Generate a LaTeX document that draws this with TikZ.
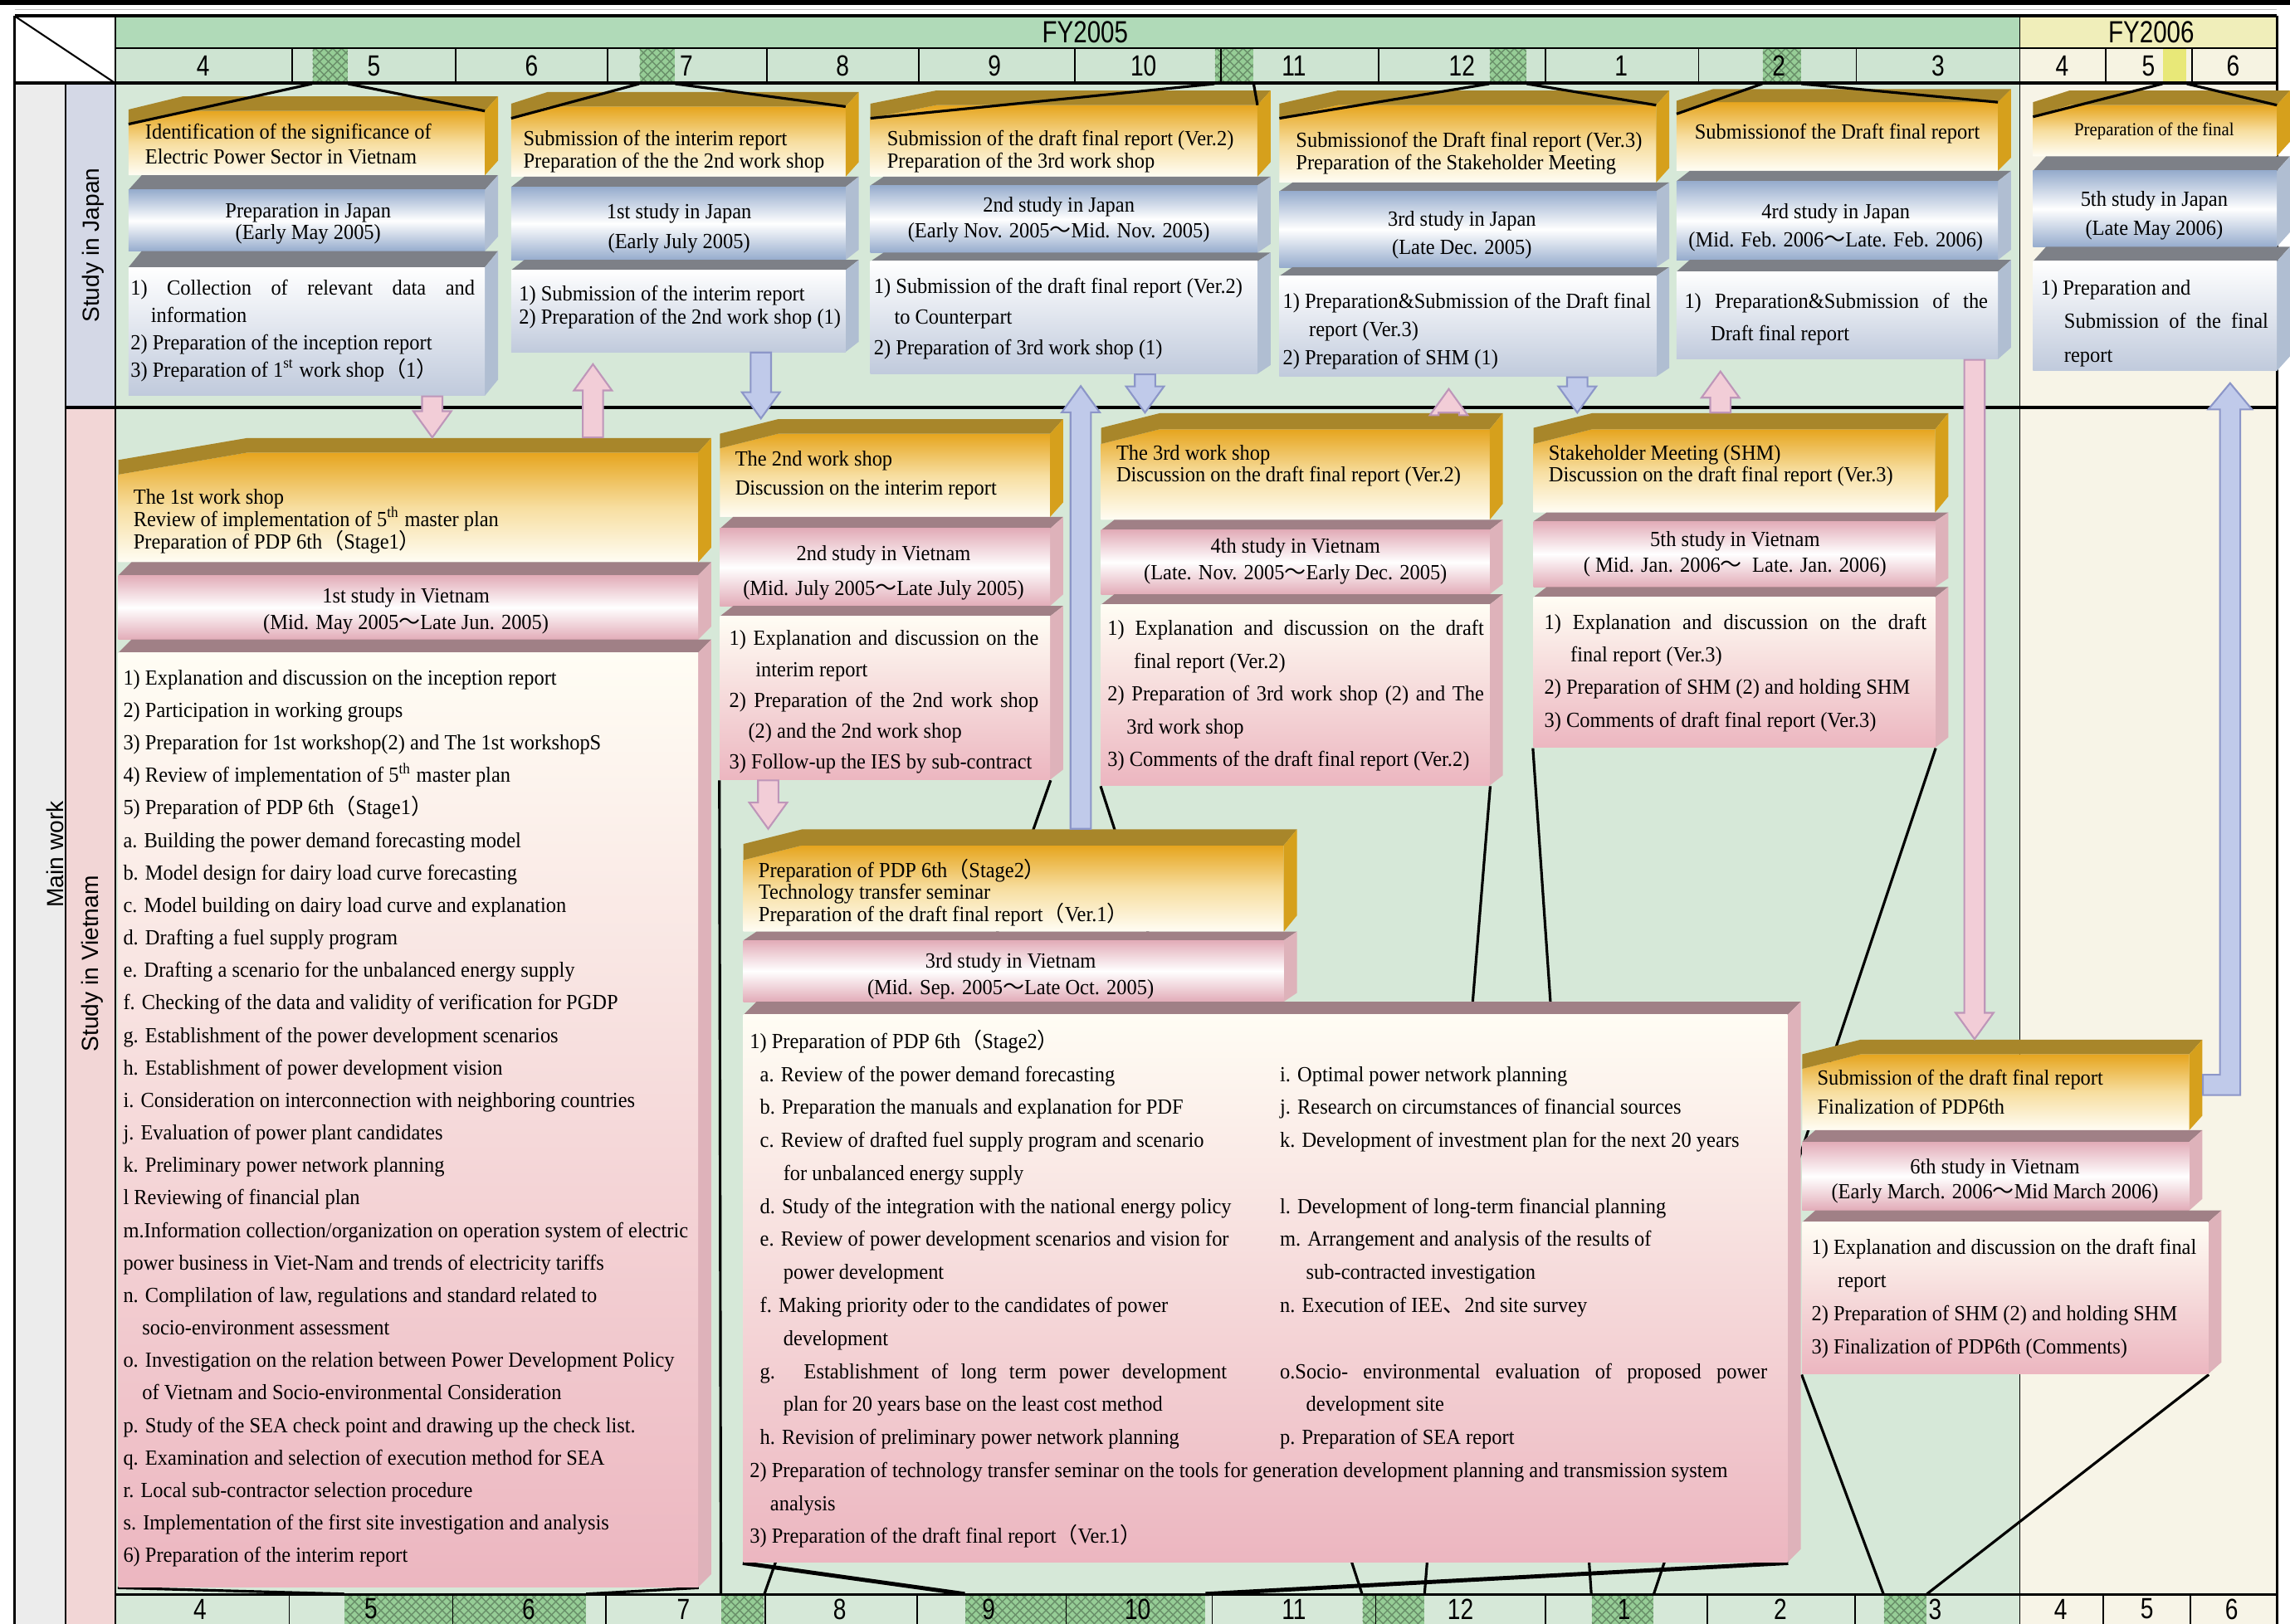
\documentclass[tikz,border=0pt]{standalone}
\usepackage{fontspec}
\setmainfont{Liberation Serif}[FakeStretch=0.94]
\newfontfamily\condsans{Liberation Sans}[FakeStretch=0.8]
\newfontfamily\lblsans{Liberation Sans}
\newfontfamily\cjk{Noto Sans CJK JP}
\usetikzlibrary{positioning,calc,fit,patterns}

% colours
\definecolor{bggreen}{RGB}{214,232,216}
\definecolor{bgcream}{RGB}{247,244,231}
\definecolor{fyg}{RGB}{176,218,184}
\definecolor{fyy}{RGB}{240,238,186}
\definecolor{mong}{RGB}{206,228,210}
\definecolor{mony}{RGB}{246,243,226}
\definecolor{hgreen}{RGB}{150,205,150}
\definecolor{hyel}{RGB}{232,232,120}
\definecolor{colg}{RGB}{236,236,236}
\definecolor{coljp}{RGB}{212,216,230}
\definecolor{colvn}{RGB}{242,214,214}
\definecolor{hdtop}{RGB}{230,165,30}
\definecolor{hdmid}{RGB}{247,222,160}
\definecolor{hdbot}{RGB}{255,253,244}
\definecolor{hdfc}{RGB}{168,134,42}
\definecolor{hdsd}{RGB}{214,160,28}
\definecolor{jfc}{RGB}{125,128,135}
\definecolor{jsd}{RGB}{176,190,210}
\definecolor{jtl}{RGB}{150,172,205}
\definecolor{jbd}{RGB}{192,202,220}
\definecolor{vfc}{RGB}{160,128,134}
\definecolor{vsd}{RGB}{222,178,186}
\definecolor{vtl}{RGB}{226,172,184}
\definecolor{vbd}{RGB}{236,182,192}
\definecolor{arpk}{RGB}{242,205,215}
\definecolor{arpkd}{RGB}{190,150,185}
\definecolor{arbl}{RGB}{192,202,234}
\definecolor{arbld}{RGB}{140,150,200}

\newcommand\wv{{\cjk ～}}
\newcommand\lp{{\cjk （}}
\newcommand\rp{{\cjk ）}}
\newcommand\jc{{\cjk 、}}
\newcommand\jst[2]{\makebox[#1][s]{#2}}
\newcommand\bxf{\fontsize{7.4}{9}\selectfont}
\newcommand\sdx{9}

\pgfdeclarelayer{back}
\pgfdeclarelayer{wires}
\pgfsetlayers{back,wires,main}

\tikzset{
    txt/.style={inner sep=0pt, font=\bxf},
    mon/.style={inner sep=0pt, font=\condsans\fontsize{10}{12}\selectfont},
    fy/.style={inner sep=0pt, font=\condsans\fontsize{10.5}{12}\selectfont},
    side/.style={inner sep=0pt, rotate=90, font=\lblsans\fontsize{8}{10}\selectfont},
    hatch/.style={inner sep=0pt, fill=hgreen,
        postaction={pattern=crosshatch, pattern color=hgreen!70!black}},
    funnel/.style={line width=0.9pt},
    jface/.style={fill=jfc},
    jside/.style={fill=jsd},
    jtitle/.style={top color=jtl, bottom color=jtl, middle color=white},
    jbody/.style={top color=white, bottom color=jbd},
    vface/.style={fill=vfc},
    vside/.style={fill=vsd},
    vtitle/.style={top color=vtl, bottom color=vtl, middle color=white},
    vbody/.style={top color=hdbot, bottom color=vbd},
    pinkarr/.style={fill=arpk, draw=arpkd, line width=0.6pt},
    bluearr/.style={fill=arbl, draw=arbld, line width=0.6pt}
}

% header slab: name, x1, x2, back y, front top y, bottom y, left slant, chamfer
\newcommand\hdslab[8]{%
    \node[fit={(#2,#4)(#3,#6)}, inner sep=0pt] (#1) {};
    \coordinate (#1-l) at (#2,#5+#8);
    \coordinate (#1-r) at (#3,#5);
    \shade[top color=hdtop, bottom color=hdbot, middle color=hdmid]
        (#2,#6) -- (#1-l) -- (#2+#7,#5) -- (#1-r) -- (#3,#6) -- cycle;
    \fill[hdfc] (#1-l) -- (#2+#7,#5) -- (#1-r) -- (#3+\sdx,#4) -- (#2+#7,#4) -- (#2,#4+#8) -- cycle;
    \fill[hdsd] (#1-r) -- (#3+\sdx,#4) -- (#3+\sdx,#6-#5+#4) -- (#3,#6) -- cycle;
}
% plain slab: name, x1, x2, back y, front top y, bottom y, lane, front style
\newcommand\slab[8]{%
    \node[fit={(#2,#4)(#3,#6)}, inner sep=0pt] (#1) {};
    \fill[#7face] (#2,#5) -- (#2+\sdx,#4) -- (#3+\sdx,#4) -- (#3,#5) -- cycle;
    \fill[#7side] (#3,#5) -- (#3+\sdx,#4) -- (#3+\sdx,#6-#5+#4) -- (#3,#6) -- cycle;
    \shade[#8] (#2,#5) rectangle (#3,#6);
}
% text lines: name, x, first baseline, step, anchor, lines
\newcommand\tlines[6]{%
    \foreach \ltext [count=\i from 0] in {#6}
        \node[txt, anchor=#5] (#1-\i) at (#2,#3+#4*\i) {\ltext};
}
% block arrows
\newcommand\fatdown[3]{%
    \draw[#1] let \p1=(#2), \p2=(#3) in
        (\x1-3.5pt,\y1) -- (\x1-3.5pt,\y2+9pt) -- (\x1-6.5pt,\y2+9pt) -- (\x1,\y2)
        -- (\x1+6.5pt,\y2+9pt) -- (\x1+3.5pt,\y2+9pt) -- (\x1+3.5pt,\y1) -- cycle;
}
\newcommand\fatup[3]{%
    \draw[#1] let \p1=(#2), \p2=(#3) in
        (\x1-3.5pt,\y1) -- (\x1-3.5pt,\y2-13pt) -- (\x1-6.5pt,\y2-13pt) -- (\x1,\y2-4pt)
        -- (\x1+6.5pt,\y2-13pt) -- (\x1+3.5pt,\y2-13pt) -- (\x1+3.5pt,\y1) -- cycle;
}

\begin{document}
\begin{tikzpicture}[x=0.0176cm, y=-0.0176cm]
\useasboundingbox (0,0) rectangle (1568,1112);

\begin{pgfonlayer}{back}
% page band and backgrounds
\fill[black] (0,0) rectangle (1568,3.5);
\draw[gray!50, line width=0.4pt] (10,6.5) -- (1559,6.5);
\fill[white] (10,11) rectangle (79,57);
\fill[fyg] (79,11) rectangle (1383,33);
\fill[fyy] (1383,11) rectangle (1559,33);
\fill[mong] (79,33) rectangle (1383,57);
\fill[mony] (1383,33) rectangle (1559,57);
\fill[bggreen] (79,57) rectangle (1383,1112);
\fill[bgcream] (1383,57) rectangle (1559,1112);
\fill[colg] (10,57) rectangle (45,1112);
\fill[coljp] (45,57) rectangle (79,279);
\fill[colvn] (45,279) rectangle (79,1112);

% month markers
\foreach \a/\b/\n in {214/238/5, 438/462/7, 832/858/11, 1020/1045/12, 1207/1233/2}
    \node[hatch, fit={(\a,33)(\b,57)}] (tm\n) {};
\node[inner sep=0pt, fill=hyel, fit={(1481,33)(1497,57)}] (tm5b) {};
\foreach \a/\b/\n in {236/401/56, 494/523/7, 661/825/910, 933/975/12, 1090/1132/1, 1290/1319/3}
    \node[hatch, fit={(\a,1092)(\b,1112)}] (bm\n) {};

% grid
\foreach \x in {200,312,416,525,629,736,836,944,1058,1163,1271,1442,1501}
    \draw[line width=0.5pt] (\x,33) -- (\x,57);
\foreach \x in {198,310,415,524,628,730,830,942,1058,1169,1270,1440,1500}
    \draw[line width=0.5pt] (\x,1092) -- (\x,1112);
\draw[line width=1.1pt] (10,11) -- (1559,11);
\draw[line width=0.8pt] (79,33) -- (1559,33);
\draw[line width=1.1pt] (10,57) -- (1559,57);
\draw[line width=1pt] (45,279) -- (1559,279);
\draw[line width=1.1pt] (79,1092) -- (1559,1092);
\draw[line width=0.8pt] (10,11) -- (10,1112);
\draw[line width=0.6pt] (45,57) -- (45,1112);
\draw[line width=0.8pt] (79,11) -- (79,1112);
\draw[line width=0.5pt] (1383,11) -- (1383,1112);
\draw[line width=0.8pt] (1559,11) -- (1559,1112);
\draw[line width=0.6pt] (10,11) -- (79,57);

% headings
\node[fy] (fy05) at (743,22) {FY2005};
\node[fy] (fy06) at (1473,22) {FY2006};
\foreach \x/\m in {139/4, 256/5, 364/6, 470/7, 577/8, 681/9, 783/10, 886/11,
        1001/12, 1110/1, 1218/2, 1327/3, 1412/4, 1471/5, 1529/6}
    \node[mon] (tmon\x) at (\x,45) {\m};
\foreach \x/\m in {137/4, 254/5, 362/6, 468/7, 575/8, 677/9, 779/10, 886/11,
        1000/12, 1112/1, 1219/2, 1325/3, 1411/4, 1470/5, 1528/6}
    \node[mon] (bmon\x) at (\x,1102) {\m};
\node[side] (lmain) at (38,585) {Main work};
\node[side] (ljp) at (64,168) {Study in Japan};
\node[side] (lvn) at (63,660) {Study in Vietnam};
\end{pgfonlayer}

% Study in Japan
\hdslab{j1h}{88}{332}{66}{76}{120}{37}{9}
\slab{j1t}{88}{332}{120}{130}{172}{j}{jtitle}
\slab{j1b}{88}{332}{172}{183}{271}{j}{jbody}

\hdslab{j2h}{350}{579}{63}{73}{121}{25}{8}
\slab{j2t}{350}{579}{121}{128}{178}{j}{jtitle}
\slab{j2b}{350}{579}{178}{185}{241}{j}{jbody}

\hdslab{j3h}{596}{861}{62}{72}{121}{45}{9}
\slab{j3t}{596}{861}{121}{127}{173}{j}{jtitle}
\slab{j3b}{596}{861}{173}{179}{256}{j}{jbody}

\hdslab{j4h}{876}{1134}{62}{72}{125}{40}{9}
\slab{j4t}{876}{1134}{125}{131}{183}{j}{jtitle}
\slab{j4b}{876}{1134}{183}{189}{258}{j}{jbody}

\hdslab{j5h}{1148}{1368}{61}{70}{117}{25}{8}
\slab{j5t}{1148}{1368}{117}{124}{178}{j}{jtitle}
\slab{j5b}{1148}{1368}{178}{186}{246}{j}{jbody}

\hdslab{j6h}{1392}{1559}{62}{72}{107}{25}{8}
\slab{j6t}{1392}{1559}{107}{117}{169}{j}{jtitle}
\slab{j6b}{1392}{1559}{169}{179}{254}{j}{jbody}

% Study in Vietnam
\hdslab{v1h}{81}{478}{300}{310}{385}{88}{15}
\slab{v1t}{81}{478}{385}{394}{438}{v}{vtitle}
\slab{v1b}{81}{478}{438}{447}{1087}{v}{vbody}

\hdslab{v2h}{493}{719}{287}{297}{354}{40}{10}
\slab{v2t}{493}{719}{354}{362}{415}{v}{vtitle}
\slab{v2b}{493}{719}{415}{422}{534}{v}{vbody}

\hdslab{v4h}{754}{1020}{283}{294}{356}{40}{10}
\slab{v4t}{754}{1020}{356}{363}{407}{v}{vtitle}
\slab{v4b}{754}{1020}{407}{414}{538}{v}{vbody}

\hdslab{v5h}{1050}{1325}{283}{294}{351}{40}{10}
\slab{v5t}{1050}{1325}{351}{357}{402}{v}{vtitle}
\slab{v5b}{1050}{1325}{402}{409}{512}{v}{vbody}

\hdslab{v3h}{509}{879}{568}{579}{638}{40}{10}
\slab{v3t}{509}{879}{638}{644}{686}{v}{vtitle}
\slab{v3b}{509}{1224}{686}{695}{1070}{v}{vbody}

\hdslab{v6h}{1234}{1499}{712}{722}{774}{40}{10}
\slab{v6t}{1234}{1499}{774}{782}{829}{v}{vtitle}
\slab{v6b}{1234}{1512}{829}{837}{941}{v}{vbody}

% periods on the lower axis (behind the boxes)
\begin{pgfonlayer}{wires}
\draw[funnel] (v1b.south west) -- (bm56.north west);
\draw[funnel] (v1b.south east) -- (bm56.north east);
\draw[funnel] (v2b.south west) -- (bm7.north west);
\draw[funnel] (v2b.south east) -- (bm7.north east);
\draw[line width=1.4pt] (v3b.south west) -- (bm910.north west);
\draw[line width=1.4pt] (v3b.south east) -- (bm910.north east);
\draw[funnel] (v4b.south west) -- (bm12.north west);
\draw[funnel] (v4b.south east) -- (bm12.north east);
\draw[funnel] (v5b.south west) -- (bm1.north west);
\draw[funnel] (v5b.south east) -- (bm1.north east);
\draw[funnel] (v6b.south west) -- (bm3.north west);
\draw[funnel] (v6b.south east) -- (bm3.north east);
\end{pgfonlayer}

% periods on the upper axis
\draw[funnel] (tm5.south west) -- (j1h-l);
\draw[funnel] (tm5.south east) -- (j1h-r);
\draw[funnel] (tm7.south west) -- (j2h-l);
\draw[funnel] (tm7.south east) -- (j2h-r);
\draw[funnel] (tm11.south west) -- (j3h-l);
\draw[funnel] (tm11.south east) -- (j3h-r);
\draw[funnel] (tm12.south west) -- (j4h-l);
\draw[funnel] (tm12.south east) -- (j4h-r);
\draw[funnel] (tm2.south west) -- (j5h-l);
\draw[funnel] (tm2.south east) -- (j5h-r);
\draw[funnel] (tm5b.south west) -- (j6h-l);
\draw[funnel] (tm5b.south east) -- (j6h-r);

% block arrows between the lanes
\foreach \x in {296,406,521,526,740,784,992,1080,1178,1352,1527}
    \coordinate (ax\x) at (\x,0);
\fatdown{pinkarr}{ax296 |- j1b.south}{ax296 |- v1h.north}
\fatup{pinkarr}{ax406 |- v1h.north}{ax406 |- j2b.south}
\fatdown{bluearr}{ax521 |- j2b.south}{ax521 |- v2h.north}
\fatdown{pinkarr}{ax526 |- v2b.south}{ax526 |- v3h.north}
\fatup{bluearr}{ax740 |- v3h.north}{ax740 |- j3b.south}
\fatdown{bluearr}{ax784 |- j3b.south}{ax784 |- v4h.north}
\fatup{pinkarr}{ax992 |- v4h.north}{ax992 |- j4b.south}
\fatdown{bluearr}{ax1080 |- j4b.south}{ax1080 |- v5h.north}
\fatup{pinkarr}{ax1178 |- v5h.north}{ax1178 |- j5b.south}
\fatdown{pinkarr}{ax1352 |- j5b.south}{ax1352 |- v6h.north}
\draw[bluearr] let \p1=([xshift=4.5pt]v6h.east), \p2=(ax1527 |- j6b.south) in
    (\x1,\y1+3.5pt) -- (\x2-3.5pt,\y1+3.5pt) -- (\x2-3.5pt,\y2-13pt) -- (\x2-7.5pt,\y2-13pt)
    -- (\x2,\y2-4pt) -- (\x2+7.5pt,\y2-13pt) -- (\x2+3.5pt,\y2-13pt) -- (\x2+3.5pt,\y1-3.5pt)
    -- (\x1,\y1-3.5pt) -- cycle;

% texts, Japan
\tlines{j1hx}{99}{95}{17}{base west}{Identification of the significance of,
Electric Power Sector in Vietnam}
\tlines{j1tx}{211}{149}{15}{base}{Preparation in Japan, (Early May 2005)}
\tlines{j1bx}{89}{202}{18.7}{base west}{\jst{118pt}{1) Collection of relevant data and},
\hspace*{7pt}information,
2) Preparation of the inception report,
3) Preparation of 1\textsuperscript{st} work shop\lp 1\rp}

\tlines{j2hx}{358}{100}{15}{base west}{Submission of the interim report,
Preparation of the the 2nd work shop}
\tlines{j2tx}{465}{150}{20}{base}{1st study in Japan, (Early July 2005)}
\tlines{j2bx}{355}{206}{16}{base west}{1) Submission of the interim report,
2) Preparation of the 2nd work shop (1)}

\tlines{j3hx}{607}{100}{15}{base west}{Submission of the draft final report (Ver.2),
Preparation of the 3rd work shop}
\tlines{j3tx}{725}{145}{18}{base}{2nd study in Japan, (Early Nov. 2005\wv Mid. Nov. 2005)}
\tlines{j3bx}{598}{201}{21}{base west}{1) Submission of the draft final report (Ver.2),
\hspace*{7pt}to Counterpart,
2) Preparation of 3rd work shop (1)}

\tlines{j4hx}{887}{101}{15}{base west}{Submissionof the Draft final report (Ver.3),
Preparation of the Stakeholder Meeting}
\tlines{j4tx}{1001}{155}{19}{base}{3rd study in Japan, (Late Dec. 2005)}
\tlines{j4bx}{878}{211}{19.5}{base west}{1) Preparation\&Submission of the Draft final,
\hspace*{9pt}report (Ver.3),
2) Preparation of SHM (1)}

\tlines{j5hx}{1258}{95}{15}{base}{Submissionof the Draft final report}
\tlines{j5tx}{1257}{150}{19}{base}{4rd study in Japan, (Mid. Feb. 2006\wv Late. Feb. 2006)}
\tlines{j5bx}{1153}{211}{22}{base west}{\jst{104pt}{1)  Preparation\&Submission  of  the},
\hspace*{9pt}Draft final report}

\tlines{j6hx}{1475}{93}{15}{base}{{\fontsize{6.3}{8}\selectfont Preparation of the final}}
\tlines{j6tx}{1475}{141}{20}{base}{5th study in Japan, (Late May 2006)}
\tlines{j6bx}{1397}{202}{23}{base west}{1) Preparation and,
\hspace*{8pt}\jst{70pt}{Submission of the final},
\hspace*{8pt}report}

% texts, Vietnam
\tlines{v1hx}{91}{345}{15.5}{base west}{The 1st work shop,
Review of implementation of 5\textsuperscript{th} master plan,
Preparation of PDP 6th\lp Stage1\rp}
\tlines{v1tx}{278}{413}{18}{base}{1st study in Vietnam, (Mid. May 2005\wv Late Jun. 2005)}
\tlines{v1bx}{84}{469}{22.26}{base west}{1) Explanation and discussion on the inception report,
2) Participation in working groups,
3) Preparation for 1st workshop(2) and The 1st workshopS,
4) Review of implementation of 5\textsuperscript{th} master plan,
5) Preparation of PDP 6th\lp Stage1\rp,
a. Building the power demand forecasting model,
b. Model design for dairy load curve forecasting,
c. Model building on dairy load curve and explanation,
d. Drafting a fuel supply program,
e. Drafting a scenario for the unbalanced energy supply,
f. Checking of the data and validity of verification for PGDP,
g. Establishment of the power development scenarios,
h. Establishment of power development vision,
i. Consideration on interconnection with neighboring countries,
j. Evaluation of power plant candidates,
k. Preliminary power network planning,
l Reviewing of financial plan,
m.Information collection/organization on operation system of electric,
power business in Viet-Nam and trends of electricity tariffs,
{n. Complilation of law, regulations and standard related to},
\hspace*{6.5pt}socio-environment assessment,
o. Investigation on the relation between Power Development Policy,
\hspace*{6.5pt}of Vietnam and Socio-environmental Consideration,
p. Study of the SEA check point and drawing up the check list.,
q. Examination and selection of execution method for SEA,
r. Local sub-contractor selection procedure,
s. Implementation of the first site investigation and analysis,
6) Preparation of the interim report}

\tlines{v2hx}{503}{319}{20}{base west}{The 2nd work shop, Discussion on the interim report}
\tlines{v2tx}{605}{384}{24}{base}{2nd study in Vietnam, (Mid. July 2005\wv Late July 2005)}
\tlines{v2bx}{499}{442}{21.2}{base west}{\jst{106pt}{1) Explanation and discussion on the},
\hspace*{9pt}interim report,
\jst{106pt}{2) Preparation of the 2nd work shop},
\hspace*{6.5pt}(2) and the 2nd work shop,
3) Follow-up the IES by sub-contract}

\tlines{v4hx}{764}{315}{15}{base west}{The 3rd work shop,
Discussion on the draft final report (Ver.2)}
\tlines{v4tx}{887}{379}{18}{base}{4th study in Vietnam, (Late. Nov. 2005\wv Early Dec. 2005)}
\tlines{v4bx}{758}{435}{22.5}{base west}{\jst{129pt}{1) Explanation and discussion on the draft},
\hspace*{9pt}final report (Ver.2),
\jst{129pt}{2) Preparation of 3rd work shop (2) and The},
\hspace*{6.5pt}3rd work shop,
3) Comments of the draft final report (Ver.2)}

\tlines{v5hx}{1060}{315}{15}{base west}{Stakeholder Meeting (SHM),
Discussion on the draft final report (Ver.3)}
\tlines{v5tx}{1188}{374}{18}{base}{5th study in Vietnam, ( Mid. Jan. 2006\wv\ \ Late. Jan. 2006)}
\tlines{v5bx}{1057}{431}{22.3}{base west}{\jst{131pt}{1) Explanation and discussion on the draft},
\hspace*{9pt}final report (Ver.3),
2) Preparation of SHM (2) and holding SHM,
3) Comments of draft final report (Ver.3)}

\tlines{v3hx}{519}{601}{15}{base west}{Preparation of PDP 6th\lp Stage2\rp,
Technology transfer seminar,
Preparation of the draft final report\lp Ver.1\rp}
\tlines{v3tx}{692}{663}{18}{base}{3rd study in Vietnam, (Mid. Sep. 2005\wv Late Oct. 2005)}
\tlines{v3bx}{513}{718}{22.6}{base west}{1) Preparation of PDP 6th\lp Stage2\rp,
\hspace*{3.5pt}a. Review of the power demand forecasting,
\hspace*{3.5pt}b. Preparation the manuals and explanation for PDF,
\hspace*{3.5pt}c. Review of drafted fuel supply program and scenario,
\hspace*{11.5pt}for unbalanced energy supply,
\hspace*{3.5pt}d. Study of the integration with the national energy policy,
\hspace*{3.5pt}e. Review of power development scenarios and vision for,
\hspace*{11.5pt}power development,
\hspace*{3.5pt}f. Making priority oder to the candidates of power,
\hspace*{11.5pt}development,
\hspace*{3.5pt}\jst{160pt}{g.  Establishment  of  long  term  power  development},
\hspace*{11.5pt}plan for 20 years base on the least cost method,
\hspace*{3.5pt}h. Revision of preliminary power network planning,
2) Preparation of technology transfer seminar on the tools for generation development planning and transmission system,
\hspace*{7pt}analysis,
3) Preparation of the draft final report\lp Ver.1\rp}
\tlines{v3cx}{876}{740.6}{22.6}{base west}{i. Optimal power network planning,
j. Research on circumstances of financial sources,
k. Development of investment plan for the next 20 years,
{},
l. Development of long-term financial planning,
m. Arrangement and analysis of the results of,
\hspace*{9pt}sub-contracted investigation,
n. Execution of IEE\jc 2nd site survey,
{},
\jst{167pt}{o.Socio- environmental evaluation of proposed power},
\hspace*{9pt}development site,
p. Preparation of SEA report}

\tlines{v6hx}{1244}{743}{20}{base west}{Submission of the draft final report, Finalization of PDP6th}
\tlines{v6tx}{1366}{804}{17}{base}{6th study in Vietnam, (Early March. 2006\wv Mid March 2006)}
\tlines{v6bx}{1240}{859}{22.7}{base west}{1) Explanation and discussion on the draft final,
\hspace*{9pt}report,
2) Preparation of SHM (2) and holding SHM,
3) Finalization of PDP6th (Comments)}

\end{tikzpicture}
\end{document}
